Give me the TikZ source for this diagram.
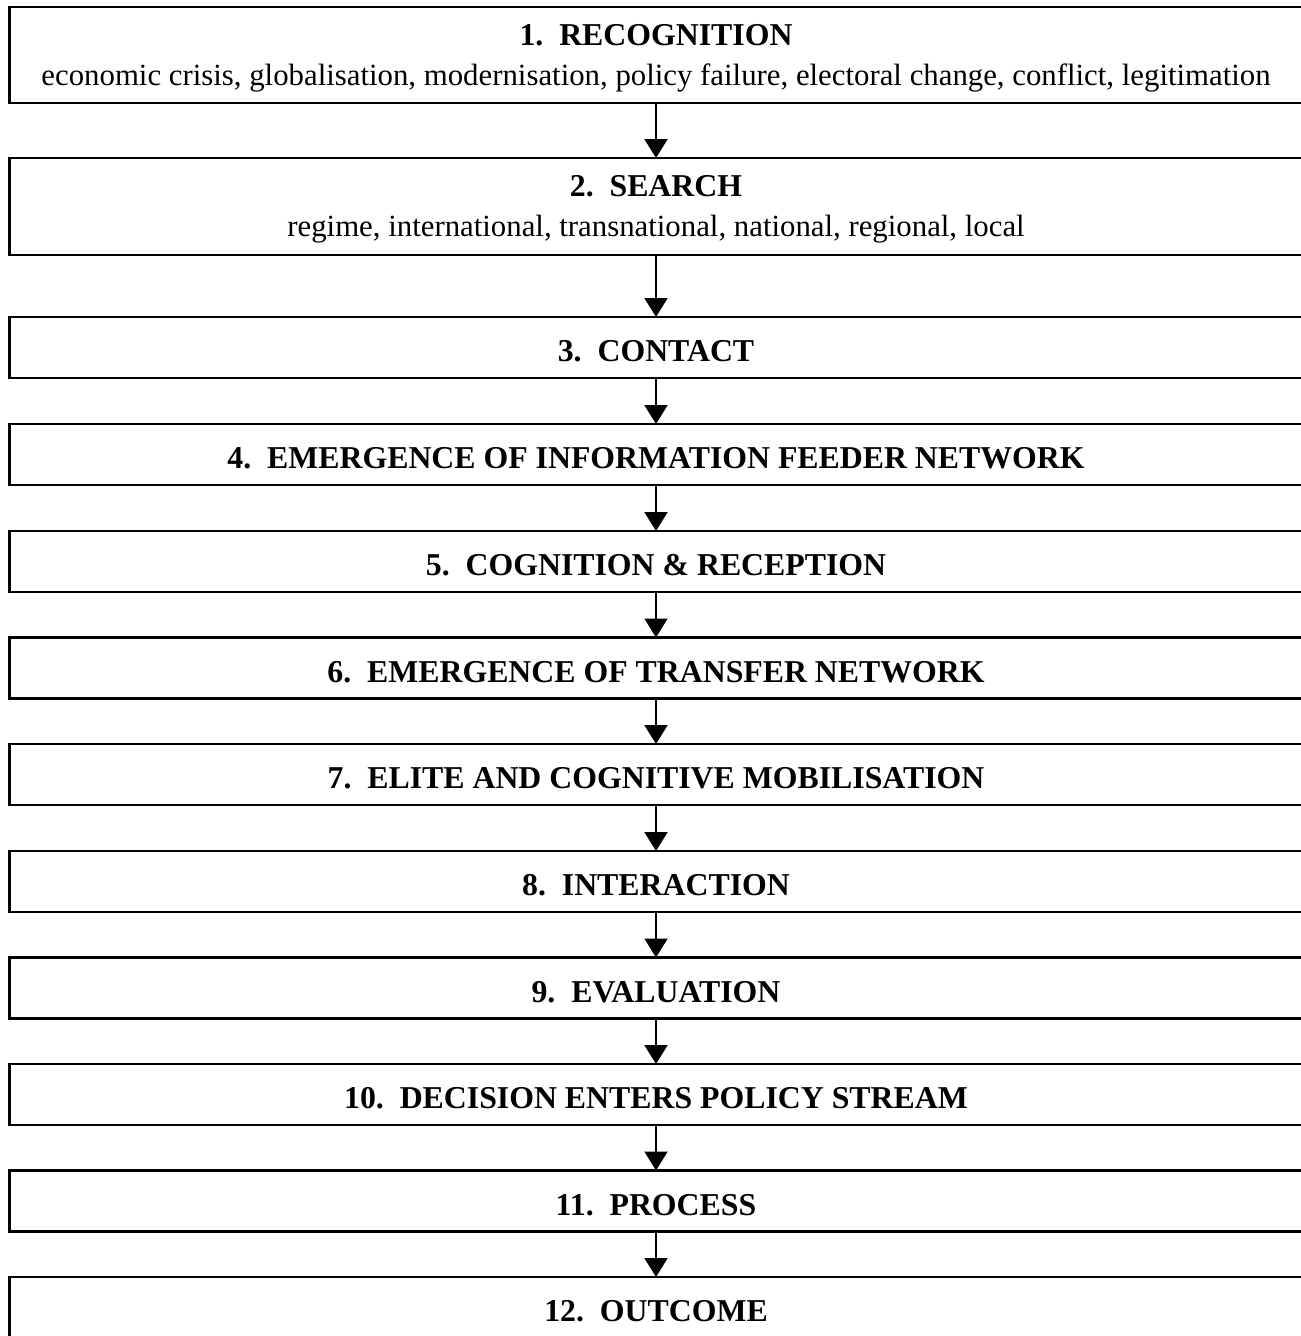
\documentclass[tikz,border=0pt]{standalone}
\usepackage{fontspec}
\setmainfont{Liberation Serif}
\usepackage{tikz}
\usetikzlibrary{arrows.meta}

\newcommand{\stagehead}[1]{{\fontsize{31.8}{40}\selectfont\bfseries #1}}

\tikzset{
  stage/.style={draw, line width=2.5pt, minimum width=1293.5pt, minimum height=61pt,
    inner sep=0pt, outer sep=0pt, align=center, font=\fontsize{30.8}{40}\selectfont,
    execute at begin node={\rule{0pt}{29pt}}},
  bigstage/.style={stage, execute at begin node={\rule{0pt}{67.5pt}}},
  flow/.style={line width=2pt, -{Triangle[width=23pt,length=19pt]}}
}

\begin{document}
\begin{tikzpicture}[x=1pt, y=-1pt]
\useasboundingbox (0, 0) rectangle (1301, 1336);
\clip (0, 0) rectangle (1301, 1336);

\node[bigstage, minimum height=96pt] (s1) at (656, 55)
  {\stagehead{1.\ \ RECOGNITION}\\economic crisis, globalisation, modernisation, policy failure, electoral change, conflict, legitimation};
\node[bigstage, minimum height=97pt] (s2) at (656, 206.5)
  {\stagehead{2.\ \ SEARCH}\\regime, international, transnational, national, regional, local};
\node[stage] (s3) at (656, 347.5) {\stagehead{3.\ \ CONTACT}};
\node[stage] (s4) at (656, 454.5) {\stagehead{4.\ \ EMERGENCE OF INFORMATION FEEDER NETWORK}};
\node[stage] (s5) at (656, 561.5) {\stagehead{5.\ \ COGNITION \& RECEPTION}};
\node[stage] (s6) at (656, 668) {\stagehead{6.\ \ EMERGENCE OF TRANSFER NETWORK}};
\node[stage] (s7) at (656, 774.5) {\stagehead{7.\ \ ELITE AND COGNITIVE MOBILISATION}};
\node[stage] (s8) at (656, 881.5) {\stagehead{8.\ \ INTERACTION}};
\node[stage] (s9) at (656, 988) {\stagehead{9.\ \ EVALUATION}};
\node[stage] (s10) at (656, 1094.5) {\stagehead{10.\ \ DECISION ENTERS POLICY STREAM}};
\node[stage] (s11) at (656, 1201) {\stagehead{11.\ \ PROCESS}};
\node[stage] (s12) at (656, 1307.5) {\stagehead{12.\ \ OUTCOME}};

\draw[flow] (s1) -- (s2);
\draw[flow] (s2) -- (s3);
\draw[flow] (s3) -- (s4);
\draw[flow] (s4) -- (s5);
\draw[flow] (s5) -- (s6);
\draw[flow] (s6) -- (s7);
\draw[flow] (s7) -- (s8);
\draw[flow] (s8) -- (s9);
\draw[flow] (s9) -- (s10);
\draw[flow] (s10) -- (s11);
\draw[flow] (s11) -- (s12);
\end{tikzpicture}
\end{document}
